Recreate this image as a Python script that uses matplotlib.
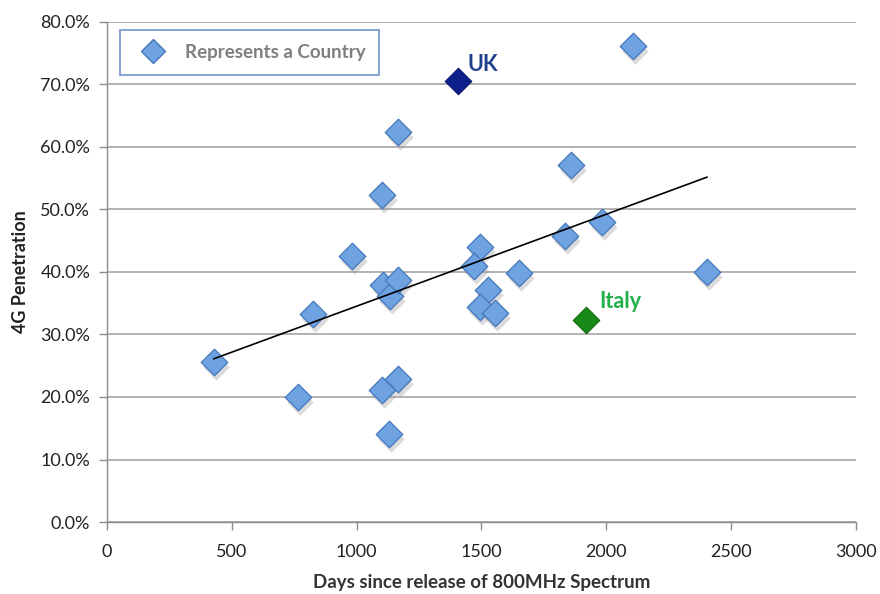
import matplotlib
matplotlib.use("Agg")
import matplotlib.pyplot as plt
import numpy as np
from matplotlib.ticker import FuncFormatter, MultipleLocator
from matplotlib.lines import Line2D

plt.rcParams['font.family'] = ['Lato', 'DejaVu Sans']

# Data: days since release of 800MHz spectrum vs 4G penetration (%)
days = [428, 765, 825, 981, 1101, 1101, 1129, 1105, 1133, 1165, 1165, 1165,
        1494, 1470, 1526, 1494, 1554, 1650, 1834, 1858, 1982, 2107, 2403]
penetration = [25.6, 20.0, 33.3, 42.6, 52.3, 21.1, 14.1, 37.9, 36.2, 38.7, 22.9, 62.4,
               44.0, 41.0, 37.1, 34.4, 33.4, 39.8, 45.8, 57.1, 48.0, 76.2, 40.0]
uk = (1406, 70.6)
italy = (1918, 32.3)
trend_x = [428, 2403]

all_x = np.array(days + [uk[0], italy[0]])
all_y = np.array(penetration + [uk[1], italy[1]])
slope, intercept = np.polyfit(all_x, all_y, 1)

fig = plt.figure(figsize=(8.8, 5.94), dpi=100)
ax = fig.add_axes([0.1216, 0.1212, 0.9727 - 0.1216, 0.963 - 0.1212])

ax.set_xlim(0, 3000)
ax.set_ylim(0, 80)
ax.yaxis.set_major_locator(MultipleLocator(10))
ax.xaxis.set_major_locator(MultipleLocator(500))
ax.yaxis.set_major_formatter(FuncFormatter(lambda v, p: f"{v:.1f}%"))
ax.grid(axis='y', color='#a6a6a6', linewidth=1.2)
ax.set_axisbelow(True)
for s in ['top', 'right']:
    ax.spines[s].set_visible(False)
for s in ['left', 'bottom']:
    ax.spines[s].set_color('#8c8c8c')
    ax.spines[s].set_linewidth(1.0)
ax.tick_params(axis='both', colors='#8c8c8c', length=6, width=1.0, labelcolor='#222222', labelsize=13)
ax.tick_params(axis='x', pad=10)
ax.tick_params(axis='y', pad=6)

ms = 13.5
# shadows
ax.scatter(np.array(days) + 8, np.array(penetration) - 0.8, marker='D', s=ms**2, color='#9a9a9a', alpha=0.35, linewidths=0, zorder=2)
ax.scatter(days, penetration, marker='D', s=ms**2, color='#6fa2e0', edgecolors='#4676bb', linewidths=0.9, zorder=3)
ax.scatter([uk[0]], [uk[1]], marker='D', s=ms**2, color='#0c1f8a', edgecolors='#0a1870', linewidths=0.8, zorder=4)
ax.scatter([italy[0]], [italy[1]], marker='D', s=ms**2, color='#178a17', edgecolors='#0f6a0f', linewidths=0.8, zorder=4)

tx = np.array(trend_x)
ax.plot(tx, slope * tx + intercept, color='black', linewidth=1.2, zorder=5)

ax.text(uk[0] + 38, uk[1] + 1.6, "UK", color='#1f3f8a', fontsize=15.5, fontweight='bold', zorder=6)
ax.text(italy[0] + 55, italy[1] + 2.0, "Italy", color='#22b04b', fontsize=15.5, fontweight='bold', zorder=6)

ax.set_xlabel("Days since release of 800MHz Spectrum", fontsize=13.5, fontweight='bold', color='#333333', labelpad=10)
ax.set_ylabel("4G Penetration", fontsize=13, fontweight='bold', color='#222222', labelpad=8)

handle = Line2D([], [], marker='D', linestyle='none', markersize=12.5, markerfacecolor='#6fa2e0', markeredgecolor='#4676bb')
leg = ax.legend([handle], ["Represents a Country"], loc='upper left', bbox_to_anchor=(0.0174, 0.984),
                frameon=True, fancybox=False, borderpad=0.75, handletextpad=0.7, borderaxespad=0,
                prop={'weight': 'bold', 'size': 13.5})
leg.get_frame().set_edgecolor('#4a7cc0')
leg.get_frame().set_linewidth(1.2)
for t in leg.get_texts():
    t.set_color('#7f7f7f')

fig.savefig("out.png", dpi=100)
